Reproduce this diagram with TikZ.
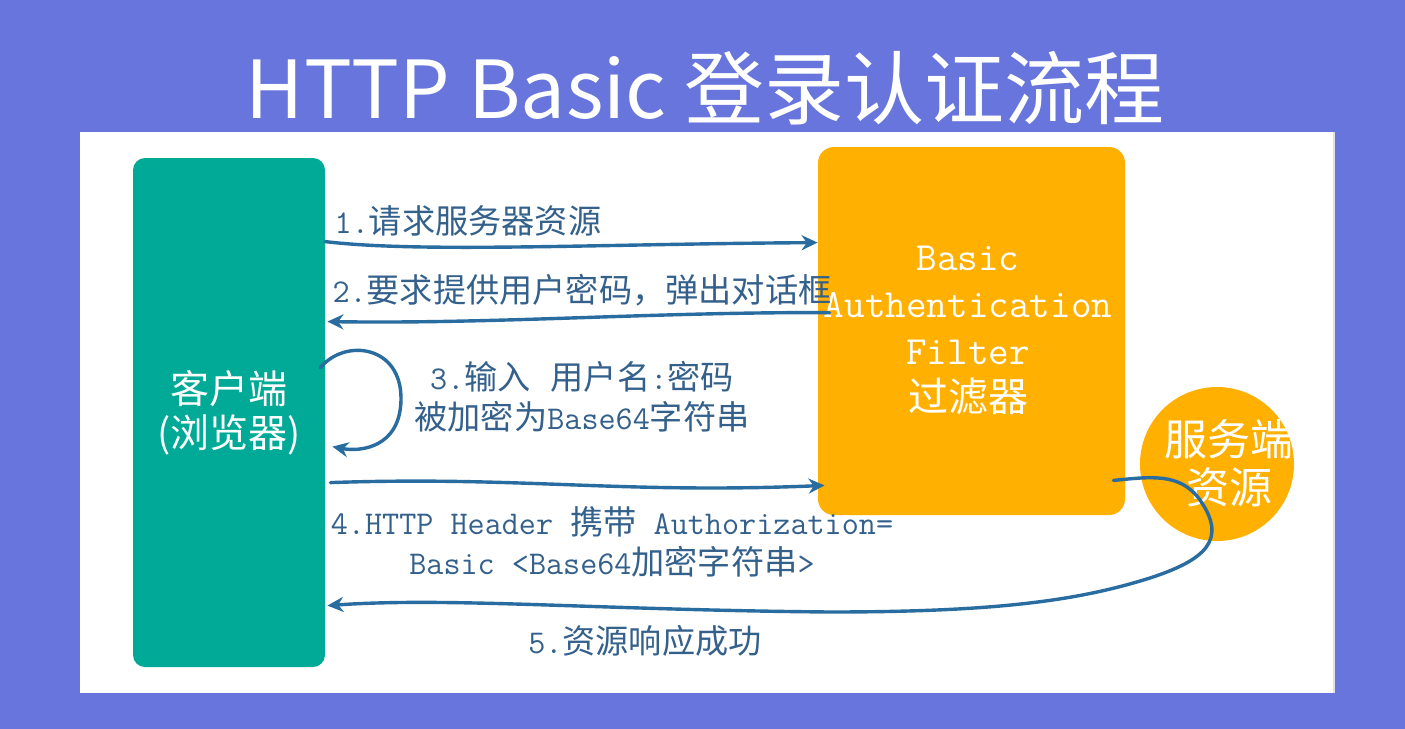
\documentclass[tikz,border=0pt]{standalone}
\usepackage{fontspec}
\newfontfamily\cj{Noto Sans CJK SC}
\usetikzlibrary{arrows.meta,calc}
\definecolor{bgblue}{RGB}{103,117,221}
\definecolor{clientc}{RGB}{0,170,150}
\definecolor{filterc}{RGB}{255,176,0}
\definecolor{arrowc}{RGB}{40,108,160}
\definecolor{labelc}{RGB}{52,96,140}
\newcommand{\lt}[1]{{\ttfamily #1}}
\begin{document}
\begin{tikzpicture}[x=0.5pt,y=-0.5pt,
  box/.style={inner sep=0pt, text=white, align=center},
  lab/.style={text=labelc, align=center, inner sep=0pt, font=\fontsize{16.6pt}{20pt}\selectfont},
  arr/.style={draw=arrowc, line width=1.7pt, line cap=round, -{Stealth[length=8pt,width=7.5pt]}}]
\fill[bgblue] (0,0) rectangle (1405,729);
\useasboundingbox (0,0) rectangle (1405,729);
\fill[white] (80,132) rectangle (1335,693);
\draw[black!12, line width=0.6pt] (1334,132) -- (1334,693);

\node[text=white, inner sep=0pt, font=\cj\fontsize{40pt}{44pt}\selectfont] (title) at (705,88) {HTTP Basic 登录认证流程};

\node[box, fill=clientc, minimum width=96pt, minimum height=254.5pt, rounded corners=6pt,
      font=\cj\fontsize{19.5pt}{22pt}\selectfont] (client) at (229,412.5) {客户端\\(浏览器)};

\node[box, fill=filterc, minimum width=153.5pt, minimum height=184pt, rounded corners=8pt] (filter) at (971.5,331) {};
\node[box, font=\fontsize{20pt}{23.5pt}\selectfont] (ftext) at (968,330)
  {\lt{Basic}\\\lt{Authentication}\\\lt{Filter}\\{\cj 过滤器}};

\node[box, circle, fill=filterc, minimum size=77pt] (server) at (1217,464) {};
\node[box, font=\cj\fontsize{21.5pt}{24pt}\selectfont] (stext) at (1229,463) {服务端\\资源};

\node[lab] (l1) at (468,221) {\lt{1.}{\cj 请求服务器资源}};
\node[lab] (l2) at (582,290) {\lt{2.}{\cj 要求提供用户密码，弹出对话框}};
\node[lab] (l3) at (582,397) {\lt{3.}{\cj 输入\hspace{0.6em}用户名}\lt{:}{\cj 密码}\\{\cj 被加密为}\lt{Base64}{\cj 字符串}};
\node[lab] (l4) at (612,542) {\lt{4.HTTP Header }{\cj 携带}\lt{ Authorization=}\\\lt{Basic \textless Base64}{\cj 加密字符串}\lt{\textgreater}};
\node[lab] (l5) at (645,641) {\lt{5.}{\cj 资源响应成功}};

\draw[arr] ($(client.north east)+(0,84)$) .. controls (420,253) and (600,244) .. ($(filter.north west)+(0,96)$);
\draw[arr] ($(filter.north west)+(12,166)$) .. controls (650,312) and (500,324) .. ($(client.north east)+(2,164)$);
\draw[arr] ($(client.north east)+(-5,210)$) .. controls (345,338) and (402,345) .. (401,400)
  .. controls (400,448) and (360,452) .. ($(client.north east)+(7,289)$);
\draw[arr] ($(client.north east)+(5,325)$) .. controls (520,476) and (620,494) .. ($(filter.south west)+(7,-30)$);
\draw[arr] ($(filter.south east)+(-12,-35)$) .. controls (1150,477) and (1180,472) .. (1200,500)
  .. controls (1228,540) and (1205,560) .. (1150,578)
  .. controls (1080,600) and (1000,612) .. (830,612)
  .. controls (600,610) and (450,597) .. ($(client.north east)+(2,448)$);
\end{tikzpicture}
\end{document}
